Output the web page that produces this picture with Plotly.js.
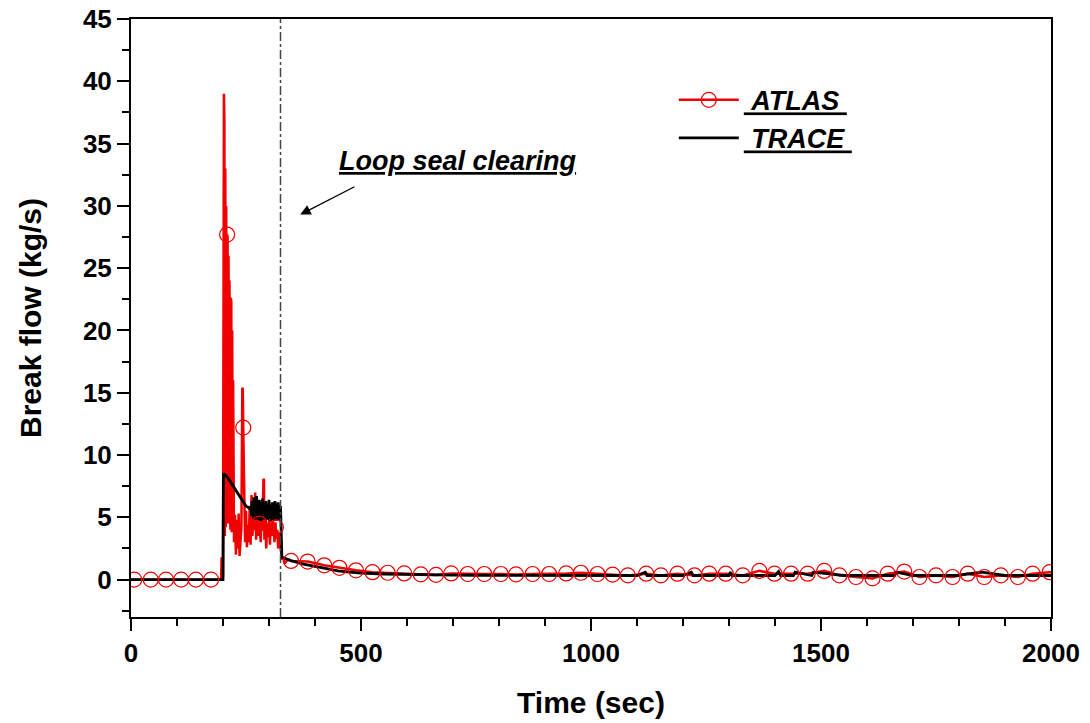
<!DOCTYPE html>
<html>
<head>
<meta charset="utf-8">
<script src="https://cdn.plot.ly/plotly-3.0.1.min.js"></script>
<style>html,body{margin:0;padding:0;background:#fff;}#chart{width:1090px;height:723px;}</style>
</head>
<body>
<div id="chart"></div>
<script>
// ATLAS measured break flow (dense line)
const atlasT = [0, 150, 196, 197, 198, 200, 201, 202, 203, 204, 205, 206, 207, 208, 209, 210, 211, 212, 213, 214, 215, 216, 217, 218, 219, 220, 221, 222, 224, 226, 228, 230, 232, 234, 236, 238, 240, 242, 243, 244, 246, 248, 250, 252, 254, 256, 258, 260, 262, 264, 266, 268, 270, 272, 274, 276, 278, 279, 280, 282, 284, 286, 288, 289, 290, 292, 294, 296, 298, 300, 302, 304, 306, 308, 310, 312, 314, 315, 316, 318, 320, 322, 324, 326, 328, 330, 334, 338, 344, 348,
  384, 420, 453, 489, 525, 558, 594, 630, 663, 696, 732, 768, 804, 837, 873, 909, 946, 978, 1014, 1047, 1080, 1120, 1152, 1188, 1225, 1257, 1293, 1330, 1366, 1399, 1435, 1471, 1507, 1540, 1576, 1612, 1645, 1681, 1714, 1750, 1786, 1819, 1855, 1891, 1928, 1960, 1997, 2000];
const atlasV = [0, 0, 0, 1.8, 0.2, 0.3, 25, 39.0, 37, 3.5, 33, 4.2, 30, 5, 27.7, 27.5, 4.5, 26, 5.5, 24, 19.8, 4, 22.6, 22.4, 3.8, 20, 5, 16, 3, 5.2, 2, 4.8, 2.5, 5.3, 1.9, 3.6, 4.2, 15.3, 15.4, 12.2, 5, 3, 5.5, 2.6, 4.4, 3, 5.8, 2.8, 6.8, 3.5, 5.2, 4, 7, 3.2, 5, 3.5, 6, 4.5, 4.2, 3, 5.5, 4, 8.1, 8, 3.2, 5, 2.5, 4.5, 3.4, 4.8, 2.8, 4.5, 3.5, 5.2, 4, 3, 4.6, 4.2, 3.3, 4, 2.5, 3.8, 3, 2.2, 1.6, 1.8, 1.3, 1.5, 1.6, 1.5,
  1.45, 1.15, 0.95, 0.75, 0.6, 0.55, 0.5, 0.42, 0.38, 0.5, 0.45, 0.45, 0.45, 0.42, 0.45, 0.45, 0.5, 0.55, 0.45, 0.4, 0.34, 0.48, 0.34, 0.48, 0.34, 0.48, 0.48, 0.34, 0.7, 0.48, 0.48, 0.48, 0.7, 0.34, 0.21, 0.1, 0.48, 0.65, 0.21, 0.34, 0.21, 0.48, 0.21, 0.34, 0.21, 0.48, 0.6, 0.6];

// ATLAS marker points
const atlasMarkT = [7, 43, 76, 109, 141, 174, 209, 244, 279, 315, 348, 384, 420, 453, 489, 525, 558, 594, 630, 663, 696, 732, 768, 804, 837, 873, 909, 946, 978, 1014, 1047, 1080, 1120, 1152, 1188, 1225, 1257, 1293, 1330, 1366, 1399, 1435, 1471, 1507, 1540, 1576, 1612, 1645, 1681, 1714, 1750, 1786, 1819, 1855, 1891, 1928, 1960, 1997];
const atlasMarkV = [0, 0, 0, 0, 0, 0, 27.7, 12.2, 4.5, 4.2, 1.5, 1.45, 1.15, 0.95, 0.75, 0.6, 0.55, 0.5, 0.42, 0.38, 0.5, 0.45, 0.45, 0.45, 0.42, 0.45, 0.45, 0.5, 0.55, 0.45, 0.4, 0.34, 0.48, 0.34, 0.48, 0.34, 0.48, 0.48, 0.34, 0.7, 0.48, 0.48, 0.48, 0.7, 0.34, 0.21, 0.1, 0.48, 0.65, 0.21, 0.34, 0.21, 0.48, 0.21, 0.34, 0.21, 0.48, 0.6];

// TRACE calculation
const traceT = [0, 200, 201, 205, 210, 215, 220, 225, 230, 235, 240, 245, 250, 255, 258, 260, 262, 263, 264, 265, 266, 267, 268, 269, 270, 271, 272, 273, 274, 275, 276, 277, 278, 279, 280, 281, 282, 283, 284, 285, 286, 287, 288, 289, 290, 291, 292, 293, 294, 295, 296, 297, 298, 299, 300, 301, 302, 303, 304, 305, 306, 307, 308, 309, 310, 311, 312, 313, 314, 315, 316, 317, 318, 319, 320, 321, 322, 323, 324, 325, 326, 328, 332, 340, 350, 375, 400, 425, 450, 475, 500, 550, 600, 650, 700, 750, 800, 850, 900, 950, 1000, 1050, 1100, 1118, 1122, 1150, 1200, 1218, 1222, 1250, 1300, 1303, 1307, 1350, 1400, 1408, 1412, 1440, 1444, 1480, 1484, 1550, 1600, 1650, 1660, 1664, 1700, 1750, 1790, 1794, 1850, 1900, 1950, 2000];
const traceV = [0, 0, 8.5, 8.4, 8.2, 7.9, 7.6, 7.3, 7.0, 6.7, 6.4, 6.1, 5.9, 5.8, 5.7, 5.9, 5.1, 6.3, 5.2, 5.7, 4.9, 6.6, 5.1, 6.0, 4.8, 5.9, 5.3, 6.7, 4.9, 5.5, 6.1, 4.8, 5.6, 6.4, 5.0, 5.8, 4.7, 6.2, 5.1, 5.7, 6.5, 4.9, 5.4, 6.0, 4.8, 5.9, 5.2, 6.3, 4.9, 5.6, 6.1, 4.8, 5.7, 5.0, 6.4, 4.9, 5.5, 6.0, 4.7, 5.8, 5.2, 6.2, 4.8, 5.6, 6.0, 4.9, 5.4, 6.3, 4.7, 5.8, 5.1, 6.1, 4.8, 5.6, 6.2, 4.9, 5.5, 6.0, 4.7, 5.9, 4.0, 1.8, 1.75, 1.65, 1.5, 1.25, 1.05, 0.85, 0.7, 0.6, 0.52, 0.45, 0.4, 0.38, 0.36, 0.35, 0.35, 0.34, 0.34, 0.34, 0.33, 0.33, 0.33, 0.6, 0.33, 0.33, 0.33, 0.6, 0.33, 0.33, 0.33, 0.6, 0.33, 0.33, 0.33, 0.65, 0.33, 0.33, 0.6, 0.33, 0.6, 0.33, 0.33, 0.33, 0.33, 0.6, 0.33, 0.33, 0.33, 0.33, 0.6, 0.33, 0.33, 0.33, 0.33, 0.33];

// annotation data
const loopSealT = 325;
const annoText = "Loop seal clearing";
const annoPos = [710, 33.6];
const arrowHead = [368, 29.3];
const arrowTail = [489, 31.6];

const xTicks = [0, 500, 1000, 1500, 2000];
const yTicks = [0, 5, 10, 15, 20, 25, 30, 35, 40, 45];

// marker trace with gaps so only markers draw, but legend shows line + marker
const mkX = [], mkY = [];
atlasMarkT.forEach((t, i) => { mkX.push(t); mkY.push(atlasMarkV[i]); mkX.push(t); mkY.push(null); });

const FONT = 'Arial, "Liberation Sans", Helvetica, sans-serif';
const RED = '#f00000';

const data = [
  {x: atlasT, y: atlasV, mode: 'lines', line: {color: RED, width: 2.5}, showlegend: false, legendgroup: 'atlas', hoverinfo: 'skip'},
  {x: traceT, y: traceV, mode: 'lines', name: '<u>\u00a0TRACE\u00a0</u>', line: {color: '#000', width: 2.8}, legendrank: 2},
  {x: mkX, y: mkY, mode: 'lines+markers', name: '<u>\u00a0ATLAS\u00a0</u>', connectgaps: false, legendgroup: 'atlas', legendrank: 1,
   line: {color: RED, width: 2.5},
   marker: {symbol: 'circle-open', size: 15, color: RED, line: {color: RED, width: 1.2}}}
];

const axisCommon = {
  showline: true, linecolor: '#000', linewidth: 2, mirror: true,
  ticks: 'outside', ticklen: 12, tickwidth: 2, tickcolor: '#000',
  showgrid: false, zeroline: false,
  tickfont: {family: FONT, size: 26, color: '#000', weight: 'bold'}
};

const layout = {
  width: 1090, height: 723,
  margin: {l: 131, r: 39, t: 19, b: 106},
  paper_bgcolor: '#fff', plot_bgcolor: '#fff',
  xaxis: Object.assign({}, axisCommon, {
    range: [0, 2000], tickvals: xTicks, ticktext: xTicks.map(String),
    minor: {dtick: 100, ticks: 'outside', ticklen: 7, tickwidth: 2, tickcolor: '#000'},
    title: {text: 'Time (sec)', font: {family: FONT, size: 30, color: '#000', weight: 'bold'}, standoff: 25}
  }),
  yaxis: Object.assign({}, axisCommon, {
    range: [-3, 45], tickvals: yTicks, ticktext: yTicks.map(String),
    minor: {dtick: 2.5, tick0: 0, ticks: 'outside', ticklen: 7, tickwidth: 2, tickcolor: '#000'},
    title: {text: 'Break flow (kg/s)', font: {family: FONT, size: 30, color: '#000', weight: 'bold'}, standoff: 32}
  }),
  legend: {
    x: 0.59, y: 0.905, xanchor: 'left', yanchor: 'top',
    bgcolor: 'rgba(0,0,0,0)', borderwidth: 0, itemwidth: 60,
    font: {family: FONT, size: 27, color: '#000', weight: 'bold', style: 'italic'},
    traceorder: 'normal', tracegroupgap: 0
  },
  shapes: [{
    type: 'line', xref: 'x', yref: 'paper', x0: loopSealT, x1: loopSealT, y0: 0, y1: 1,
    line: {color: '#444', width: 1.5, dash: 'dashdot'}
  }],
  annotations: [
    {x: annoPos[0], y: annoPos[1], xref: 'x', yref: 'y', text: '<u>' + annoText + '</u>', showarrow: false,
     font: {family: FONT, size: 27, color: '#000', weight: 'bold', style: 'italic'}},
    {x: arrowHead[0], y: arrowHead[1], xref: 'x', yref: 'y', ax: arrowTail[0], ay: arrowTail[1], axref: 'x', ayref: 'y',
     text: '', showarrow: true, arrowhead: 2, arrowsize: 1.6, arrowwidth: 1.3, arrowcolor: '#000'}
  ]
};

Plotly.newPlot('chart', data, layout, {displayModeBar: false, staticPlot: true});
</script>
</body>
</html>
